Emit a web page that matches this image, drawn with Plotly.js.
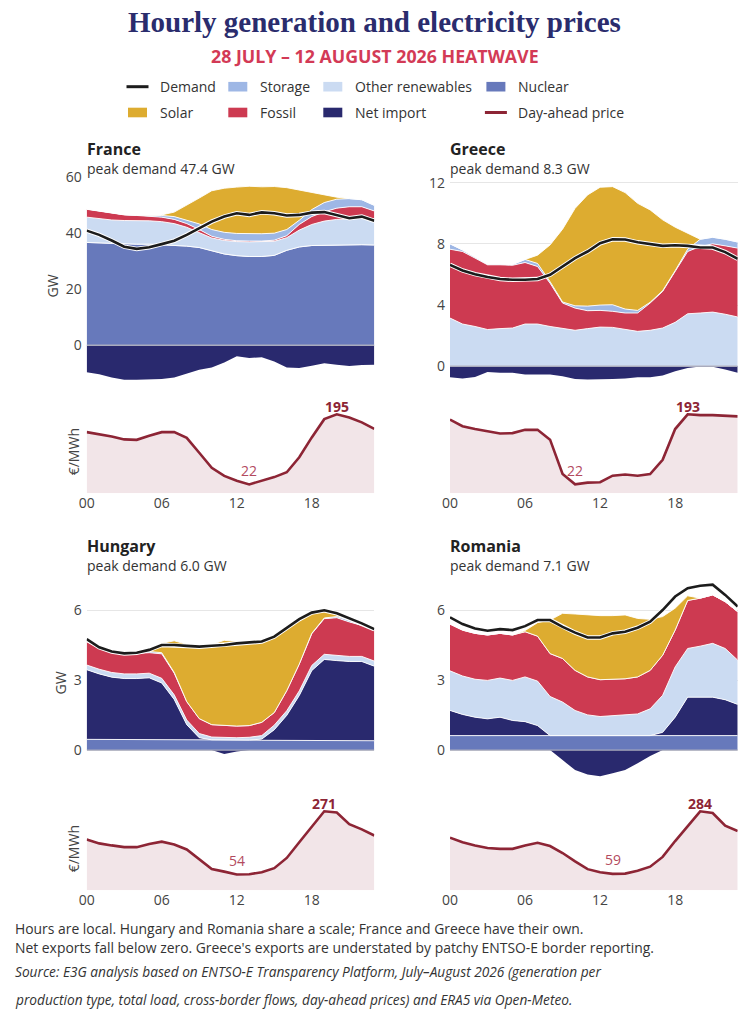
<!DOCTYPE html>
<html><head><meta charset="utf-8">
<script src="https://cdn.plot.ly/plotly-3.0.1.min.js"></script>
<style>html,body{margin:0;padding:0;background:#fff}#chart{width:749px;height:1024px}</style>
</head><body><div id="chart"></div>
<script>
// ---------- DATA (GW and EUR/MWh, hours 00-23) ----------
const HOURS = [0,1,2,3,4,5,6,7,8,9,10,11,12,13,14,15,16,17,18,19,20,21,22,23];
const HOUR_TICKS = [0,6,12,18];
const HOUR_TICK_LABELS = ['00','06','12','18'];
const COUNTRIES = ['France','Greece','Hungary','Romania'];

// France
const FR_NUCLEAR   = [36.6,36.4,36.2,36.1,36.0,36.0,35.8,35.6,35.3,34.8,33.6,32.5,31.9,31.6,31.6,32.0,33.8,35.0,35.5,35.6,35.7,35.8,35.8,35.7];
const FR_NETIMPORT = [-9.6,-10.3,-11.5,-12.3,-12.3,-12.1,-12.0,-11.5,-10.0,-8.7,-7.9,-6.1,-3.9,-4.5,-4.3,-5.8,-7.9,-8.1,-7.3,-6.4,-6.9,-7.4,-7.0,-6.9];
const FR_OTHER     = [9.0,8.6,8.4,8.3,8.4,8.3,8.2,7.7,6.7,5.4,4.6,4.8,5.0,5.2,5.2,5.0,4.5,6.0,7.5,8.6,9.1,9.2,9.4,9.3];
const FR_FOSSIL    = [2.8,2.7,2.4,2.0,1.8,1.7,1.6,1.5,1.3,1.0,0.6,0.4,0.3,0.3,0.3,0.4,0.7,2.0,2.8,3.3,4.0,4.3,4.1,2.8];
const FR_STORAGE   = [0.1,0.1,0.1,0.1,0.1,0.3,0.6,1.0,1.3,2.0,2.4,2.5,2.6,2.6,2.6,2.5,2.2,1.5,2.5,3.3,3.2,2.9,2.5,2.0];
const FR_SOLAR     = [0,0,0,0,0,0,0.2,1.6,5.2,9.2,13.8,15.7,16.5,16.9,16.7,16.6,14.9,10.8,6.0,2.7,0.7,0,0,0];
const FR_DEMAND    = [40.8,39.3,37.3,35.1,34.3,34.9,36.0,37.2,39.3,41.7,44.0,45.8,47.0,46.4,47.3,47.0,46.2,46.4,47.2,47.4,46.4,45.2,45.8,44.3];
const FR_PRICE     = [151,146,140,133,132,142,151,151,137,100,63,43,31,22,31,40,52,89,138,183,195,187,175,159];

// Greece
const GR_NUCLEAR   = [0,0,0,0,0,0,0,0,0,0,0,0,0,0,0,0,0,0,0,0,0,0,0,0];
const GR_NETIMPORT = [-0.72,-0.8,-0.7,-0.37,-0.43,-0.43,-0.54,-0.54,-0.54,-0.65,-0.83,-0.87,-0.83,-0.83,-0.8,-0.72,-0.72,-0.61,-0.33,-0.11,-0.02,-0.04,-0.22,-0.43];
const GR_OTHER     = [3.15,2.76,2.6,2.4,2.46,2.5,2.76,2.76,2.6,2.46,2.35,2.46,2.56,2.54,2.4,2.28,2.35,2.5,2.87,3.43,3.48,3.54,3.4,3.22];
const GR_FOSSIL    = [4.5,4.74,4.47,4.23,4.17,4.1,4.02,3.76,2.83,1.67,1.45,1.17,1.09,1.05,1.08,1.2,1.78,2.39,3.33,4.07,4.35,4.46,4.47,4.5];
const GR_STORAGE   = [0.35,0.1,0.07,0.05,0.05,0.05,0.2,0.2,0.1,0.07,0.15,0.3,0.35,0.43,0.26,0.17,0.05,0.05,0.05,0.15,0.47,0.43,0.43,0.4];
const GR_SOLAR     = [0,0,0,0,0,0,0,0.54,2.4,4.76,6.37,7.27,7.7,7.72,7.61,7.0,6.04,4.63,2.84,1.05,0,0,0,0];
const GR_DEMAND    = [6.63,6.26,6.02,5.83,5.7,5.65,5.65,5.7,5.98,6.52,7.07,7.5,8.04,8.3,8.28,8.1,7.98,7.87,7.91,7.87,7.76,7.76,7.46,7.02];
const GR_PRICE     = [180,164,157,151,146,147,155,155,131,47,22,26,27,43,46,43,47,82,157,193,191,191,190,188];

// Hungary
const HU_NUCLEAR   = [0.46,0.46,0.46,0.45,0.45,0.45,0.45,0.45,0.44,0.44,0.44,0.43,0.43,0.43,0.42,0.42,0.42,0.41,0.41,0.41,0.41,0.40,0.40,0.40];
const HU_NETIMPORT = [2.99,2.81,2.67,2.62,2.62,2.65,2.43,1.72,0.65,0.09,0.0,-0.17,-0.06,0.0,0.05,0.45,1.07,1.93,3.0,3.48,3.43,3.4,3.4,3.2];
const HU_OTHER     = [0.2,0.2,0.2,0.2,0.2,0.2,0.2,0.2,0.2,0.18,0.12,0.1,0.1,0.12,0.15,0.2,0.2,0.2,0.22,0.22,0.22,0.22,0.22,0.22];
const HU_FOSSIL    = [1.0,0.9,0.9,0.88,0.88,0.88,1.05,0.93,0.79,0.64,0.53,0.53,0.5,0.5,0.57,0.54,0.86,1.15,1.36,1.53,1.62,1.48,1.33,1.32];
const HU_STORAGE   = [0.08,0.06,0.05,0.04,0.04,0.05,0.05,0.03,0,0,0,0,0,0,0,0,0,0,0.02,0.03,0.05,0.08,0.1,0.1];
const HU_SOLAR     = [0,0,0,0,0,0,0.4,1.36,2.46,3.12,3.44,3.65,3.63,3.6,3.44,3.22,2.72,1.98,0.95,0.34,0.1,0,0,0];
const HU_DEMAND    = [4.76,4.41,4.23,4.15,4.18,4.3,4.51,4.51,4.47,4.44,4.48,4.51,4.58,4.63,4.66,4.87,5.26,5.62,5.9,6.0,5.87,5.66,5.44,5.19];
const HU_PRICE     = [174,161,154,148,148,159,167,157,140,105,73,64,54,55,62,76,111,165,217,271,267,227,209,188];

// Romania
const RO_NUCLEAR   = [0.62,0.62,0.62,0.62,0.62,0.62,0.62,0.62,0.62,0.62,0.62,0.62,0.62,0.62,0.62,0.62,0.62,0.62,0.62,0.62,0.62,0.62,0.62,0.62];
const RO_NETIMPORT = [1.08,0.91,0.79,0.72,0.79,0.65,0.6,0.43,0.0,-0.43,-0.86,-1.05,-1.12,-1.0,-0.86,-0.57,-0.26,0.14,0.79,1.65,1.65,1.65,1.54,1.34];
const RO_OTHER     = [1.7,1.65,1.63,1.65,1.68,1.72,1.92,1.91,1.68,1.44,1.08,0.89,0.82,0.86,0.89,0.93,1.15,1.59,2.16,2.09,2.19,2.31,2.2,1.9];
const RO_FOSSIL    = [2.01,1.97,1.97,1.95,1.92,1.95,1.94,1.93,1.84,1.87,1.72,1.63,1.58,1.56,1.55,1.59,1.65,1.72,1.58,2.06,2.06,2.08,2.01,2.08];
const RO_STORAGE   = [0,0,0,0,0,0,0,0,0,0,0,0,0,0,0,0,0,0,0,0,0,0,0,0];
const RO_SOLAR     = [0,0,0,0,0,0,0.05,0.58,1.44,1.94,2.42,2.66,2.75,2.73,2.74,2.51,2.19,1.66,0.94,0.2,0,0,0,0];
const RO_DEMAND    = [5.7,5.41,5.22,5.12,5.19,5.15,5.32,5.58,5.58,5.29,5.04,4.83,4.83,5.01,5.08,5.25,5.51,6.01,6.59,6.95,7.05,7.1,6.66,6.16];
const RO_PRICE     = [189,173,161,152,149,149,161,171,159,134,104,76,65,59,60,70,85,120,177,232,284,278,232,213];

const Y_TICKS = {France:[0,20,40,60], Greece:[0,4,8,12], Hungary:[0,3,6], Romania:[0,3,6]};

const TITLE = 'Hourly generation and electricity prices';
const SUBTITLE = '28 JULY \u2013 12 AUGUST 2026 HEATWAVE';
const FOOTNOTES = [
  'Hours are local. Hungary and Romania share a scale; France and Greece have their own.',
  "Net exports fall below zero. Greece's exports are understated by patchy ENTSO-E border reporting."
];
const SOURCE_LINES = [
  'Source: E3G analysis based on ENTSO-E Transparency Platform, July\u2013August 2026 (generation per',
  'production type, total load, cross-border flows, day-ahead prices) and ERA5 via Open-Meteo.'
];

// ---------- STYLE ----------
const C = {
  nuclear:'#6779bb', netimport:'#29296e', other:'#cbdbf2', fossil:'#cd3a51',
  storage:'#9eb7e5', solar:'#ddac30', demand:'#1c1c1c', price:'#8d2535',
  priceFill:'#f2e5e8', grid:'#e6e6e6', tick:'#444444', text:'#333333'
};
const FONT = 'Open Sans, Noto Sans, DejaVu Sans, sans-serif';
const W = 749, H = 1024;
const px = v => v / W;
const py = v => 1 - v / H;

const PANELS = [
  {name:'France',  d:{n:FR_NUCLEAR,i:FR_NETIMPORT,o:FR_OTHER,f:FR_FOSSIL,s:FR_STORAGE,p:FR_SOLAR,dem:FR_DEMAND,pr:FR_PRICE}, x0:86.7, x1:374.3, row:0, yr:[-17.7,60],   axisTitle:true},
  {name:'Greece',  d:{n:GR_NUCLEAR,i:GR_NETIMPORT,o:GR_OTHER,f:GR_FOSSIL,s:GR_STORAGE,p:GR_SOLAR,dem:GR_DEMAND,pr:GR_PRICE}, x0:450,  x1:737.7, row:0, yr:[-1.88,12.39], axisTitle:false},
  {name:'Hungary', d:{n:HU_NUCLEAR,i:HU_NETIMPORT,o:HU_OTHER,f:HU_FOSSIL,s:HU_STORAGE,p:HU_SOLAR,dem:HU_DEMAND,pr:HU_PRICE}, x0:86.7, x1:374.3, row:1, yr:[-1.80,7.57],  axisTitle:true},
  {name:'Romania', d:{n:RO_NUCLEAR,i:RO_NETIMPORT,o:RO_OTHER,f:RO_FOSSIL,s:RO_STORAGE,p:RO_SOLAR,dem:RO_DEMAND,pr:RO_PRICE}, x0:450,  x1:737.7, row:1, yr:[-1.80,7.57],  axisTitle:false}
];
const ROW_SHIFT = 397;

const traces = [];
const layout = {
  width:W, height:H, margin:{l:0,r:0,t:0,b:0},
  paper_bgcolor:'#fff', plot_bgcolor:'rgba(0,0,0,0)',
  showlegend:false, font:{family:FONT, color:C.text},
  annotations:[], shapes:[]
};

PANELS.forEach((P, k) => {
  const mi = 2*k+1, pi = 2*k+2;
  const xm = 'x'+mi, ym = 'y'+mi, xp = 'x'+pi, yp = 'y'+pi;
  const off = P.row * ROW_SHIFT;
  const d = P.d;
  const pos = d.i.map(v => Math.max(v, 0));
  const neg = d.i.map(v => Math.min(v, 0));
  const stack = [
    ['Nuclear', d.n, C.nuclear], ['Net import', pos, C.netimport], ['Other renewables', d.o, C.other],
    ['Fossil', d.f, C.fossil], ['Storage', d.s, C.storage], ['Solar', d.p, C.solar]
  ];
  stack.forEach(([nm, arr, col]) => traces.push({
    type:'scatter', mode:'lines', x:HOURS, y:arr, name:nm, xaxis:xm, yaxis:ym,
    stackgroup:'gen'+k, fillcolor:col, line:{color:'#ffffff', width:0.9}, hoverinfo:'skip'
  }));
  traces.push({type:'scatter', mode:'lines', x:HOURS, y:neg, name:'Net export', xaxis:xm, yaxis:ym,
    fill:'tozeroy', fillcolor:C.netimport, line:{width:0, color:C.netimport}, hoverinfo:'skip'});
  traces.push({type:'scatter', mode:'lines', x:HOURS, y:d.dem, xaxis:xm, yaxis:ym,
    line:{color:'#ffffff', width:4.5}, hoverinfo:'skip'});
  traces.push({type:'scatter', mode:'lines', x:HOURS, y:d.dem, name:'Demand', xaxis:xm, yaxis:ym,
    line:{color:C.demand, width:2.6}, hoverinfo:'skip'});
  traces.push({type:'scatter', mode:'lines', x:HOURS, y:d.pr, name:'Day-ahead price', xaxis:xp, yaxis:yp,
    fill:'tozeroy', fillcolor:C.priceFill, line:{color:C.price, width:2.6}, hoverinfo:'skip'});

  const mainTop = 176.7 + off, mainBot = 395 + off, prTop = 410 + off, prBot = 493.3 + off;
  const pmax = Math.max(...d.pr), pmin = Math.min(...d.pr);
  layout['xaxis'+mi] = {domain:[px(P.x0), px(P.x1)], range:[0,23], anchor:ym, showticklabels:false,
    showgrid:false, zeroline:false, showline:false, ticks:'', fixedrange:true};
  layout['yaxis'+mi] = {domain:[py(mainBot), py(mainTop)], range:P.yr, anchor:xm, tickvals:Y_TICKS[P.name],
    showgrid:true, gridcolor:C.grid, gridwidth:1, zeroline:false, showline:false, ticks:'',
    tickfont:{family:FONT, size:14, color:C.tick}, ticklabelstandoff:4, fixedrange:true,
    title: P.axisTitle ? {text:'GW', font:{family:FONT, size:14, color:C.tick}, standoff:3} : {text:''}};
  layout['xaxis'+pi] = {domain:[px(P.x0), px(P.x1)], range:[0,23], anchor:yp, tickvals:HOUR_TICKS,
    ticktext:HOUR_TICK_LABELS, showgrid:false, zeroline:false, showline:false, ticks:'',
    tickfont:{family:FONT, size:14, color:C.tick}, fixedrange:true};
  layout['yaxis'+pi] = {domain:[py(prBot), py(prTop)], range:[0, pmax*(prBot-prTop)/79], anchor:xp,
    showticklabels:false, showgrid:false, zeroline:false, showline:false, ticks:'', fixedrange:true,
    title: P.axisTitle ? {text:'\u20ac/MWh', font:{family:FONT, size:14, color:C.tick}, standoff:2} : {text:''}};

  // zero line above the areas
  layout.shapes.push({type:'line', xref:xm, yref:ym, x0:0, x1:23, y0:0, y1:0, layer:'above',
    line:{color:'#a9abbd', width:1.3}});

  // panel title + peak-demand subtitle (one two-line text block)
  const peak = Math.max(...d.dem).toFixed(1);
  layout.annotations.push({xref:'paper', yref:'paper', x:px(P.x0-2), y:py(158.3+off), xanchor:'left', yanchor:'middle',
    align:'left', showarrow:false, font:{family:FONT, size:14.8, color:'#333'},
    text:'<span style="font-size:16px;font-weight:bold;fill:#222">'+P.name+'</span><br>'+
         '<span style="font-size:14px">peak demand '+peak+' GW</span>'});

  // price max / min labels
  layout.annotations.push({xref:xp, yref:yp, x:HOURS[d.pr.indexOf(pmax)], y:pmax, yshift:8, yanchor:'middle',
    text:'<b>'+Math.round(pmax)+'</b>', showarrow:false, font:{family:FONT, size:14, color:C.price}});
  layout.annotations.push({xref:xp, yref:yp, x:HOURS[d.pr.indexOf(pmin)], y:pmin, yshift:14, yanchor:'middle',
    text:String(Math.round(pmin)), showarrow:false, font:{family:FONT, size:14, color:'#b34a5e'}});
});

// title & subtitle
layout.annotations.push({xref:'paper', yref:'paper', x:0.5, y:py(22), xanchor:'center', yanchor:'middle',
  text:TITLE, showarrow:false, font:{family:'Liberation Serif, DejaVu Serif, serif', size:29, weight:700, color:'#2a2c6d'}});
layout.annotations.push({xref:'paper', yref:'paper', x:0.5, y:py(56), xanchor:'center', yanchor:'middle',
  text:SUBTITLE, showarrow:false, font:{family:FONT, size:17.8, weight:700, color:'#d33a56'}});

// legend (custom, two rows x four columns)
const LEGEND = [
  {label:'Demand', kind:'line', color:C.demand, col:0, row:0},
  {label:'Storage', kind:'box', color:C.storage, col:1, row:0},
  {label:'Other renewables', kind:'box', color:C.other, col:2, row:0},
  {label:'Nuclear', kind:'box', color:C.nuclear, col:3, row:0},
  {label:'Solar', kind:'box', color:C.solar, col:0, row:1},
  {label:'Fossil', kind:'box', color:C.fossil, col:1, row:1},
  {label:'Net import', kind:'box', color:C.netimport, col:2, row:1},
  {label:'Day-ahead price', kind:'line', color:C.price, col:3, row:1}
];
const LEG_SYM_X = [128, 228.3, 323.3, 486.4];
const LEG_TXT_X = [157.5, 258.3, 353.3, 516];
const LEG_ROW_Y = [86.7, 112.5];
LEGEND.forEach(it => {
  const x0 = LEG_SYM_X[it.col], yc = LEG_ROW_Y[it.row];
  if (it.kind === 'box') {
    layout.shapes.push({type:'rect', xref:'paper', yref:'paper', x0:px(x0), x1:px(x0+19), y0:py(yc+4.8), y1:py(yc-4.8),
      fillcolor:it.color, line:{width:0}});
  } else {
    layout.shapes.push({type:'line', xref:'paper', yref:'paper', x0:px(x0-1.5), x1:px(x0+20.5), y0:py(yc), y1:py(yc),
      line:{color:it.color, width:3}});
  }
  layout.annotations.push({xref:'paper', yref:'paper', x:px(LEG_TXT_X[it.col]), y:py(yc), xanchor:'left', yanchor:'middle',
    text:it.label, showarrow:false, font:{family:FONT, size:14, color:C.text}});
});

// footnotes
const FOOT_Y = [928.3, 947.3];
FOOTNOTES.forEach((t, i) => layout.annotations.push({xref:'paper', yref:'paper', x:px(13), y:py(FOOT_Y[i]),
  xanchor:'left', yanchor:'middle', text:t, showarrow:false, font:{family:FONT, size:13.9, color:C.text}}));
const SRC_Y = [971.7, 999.3];
SOURCE_LINES.forEach((t, i) => layout.annotations.push({xref:'paper', yref:'paper', x:px(13), y:py(SRC_Y[i]),
  xanchor:'left', yanchor:'middle', text:t, showarrow:false, font:{family:FONT, size:13.7, style:'italic', color:C.text}}));

Plotly.newPlot('chart', traces, layout, {displayModeBar:false, staticPlot:true});
</script></body></html>
